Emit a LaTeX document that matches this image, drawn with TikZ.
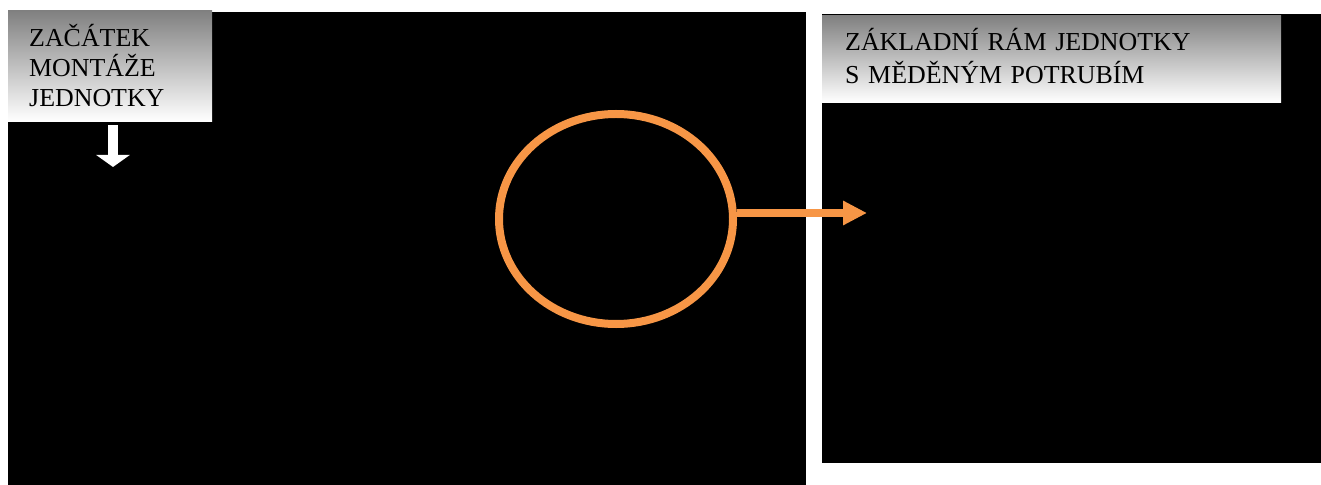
\documentclass[tikz,border=0pt]{standalone}
\usepackage{fontspec}
\setmainfont{Liberation Serif}
\usetikzlibrary{arrows.meta,positioning,calc,shapes.geometric}
\definecolor{accentorange}{HTML}{F79646}
\tikzset{
  panel/.style={
    fill=black,
    draw=none,
    anchor=north west,
    inner sep=0pt
  },
  labelbox/.style={
    anchor=north west,
    draw=none,
    top color=black!50,
    bottom color=white,
    align=left,
    inner ysep=0pt
  },
  ring/.style={ellipse, draw=accentorange, line width=8bp, minimum width=234bp, minimum height=210bp, inner sep=0pt},
  flowarrow/.style={-{Triangle[length=24bp,width=23bp]}, line width=8bp, draw=accentorange},
  downarrow/.style={-{Triangle[length=12bp,width=33bp]}, line width=10bp, draw=white, fill=white}
}

\begin{document}
\begin{tikzpicture}[x=1bp, y=-1bp]
  \useasboundingbox (0,0) rectangle (1321,485);
  % black panels
  \node[panel, minimum width=798bp, minimum height=473bp] (leftpanel) at (8,12) {};
  \node[panel, minimum width=499bp, minimum height=449bp] (rightpanel) at (822,14) {};
  % labels
  \node[labelbox, minimum width=204bp, minimum height=111bp, inner xsep=21bp, text width=162bp,
        font=\fontsize{26}{30}\selectfont] (startlabel) at (8,10) {ZAČÁTEK\\MONTÁŽE\\JEDNOTKY};
  \node[labelbox, minimum width=459bp, minimum height=87bp, inner xsep=23bp, text width=413bp,
        text depth=39bp, font=\fontsize{26}{33}\selectfont] (framelabel) at (822,15) {ZÁKLADNÍ RÁM JEDNOTKY\\S MĚDĚNÝM POTRUBÍM};
  % marks
  \node[ring] (ring) at (616,219) {};
  \coordinate (downtip) at (113,167);
  \coordinate (arrowtip) at (867,213);
  \draw[downarrow, shorten <=4bp] (startlabel.south -| downtip) -- (downtip);
  \draw[flowarrow] (ring.east |- arrowtip) -- (arrowtip);
\end{tikzpicture}
\end{document}
